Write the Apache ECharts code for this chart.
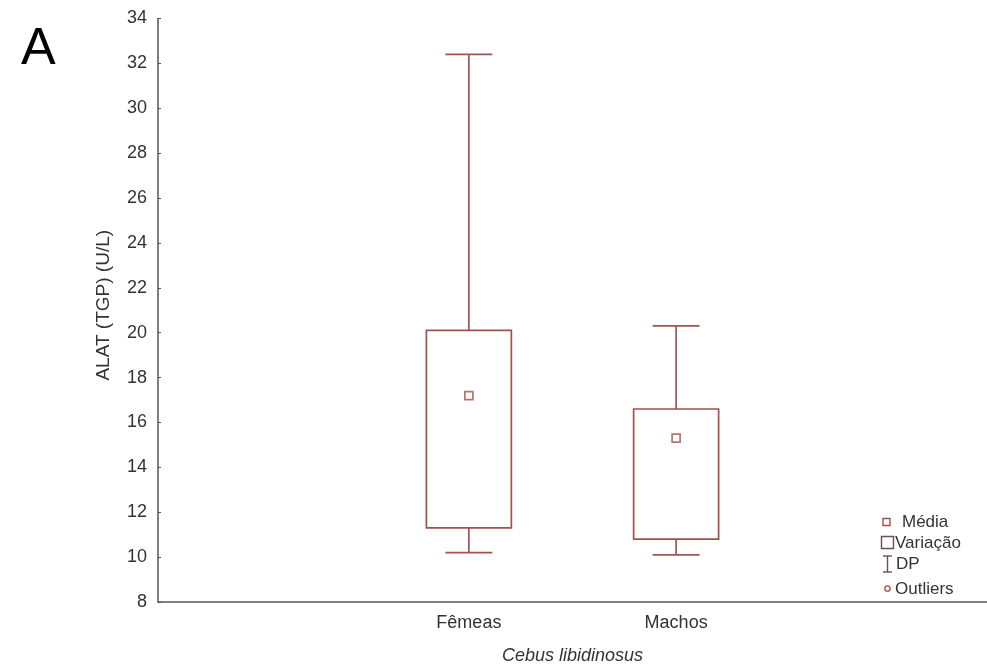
<!DOCTYPE html>
<html>
<head>
<meta charset="utf-8">
<script src="https://cdn.jsdelivr.net/npm/echarts@6/dist/echarts.min.js"></script>
<style>
  html, body { margin: 0; padding: 0; background: #fff; }
  #chart { width: 987px; height: 670px; }
</style>
</head>
<body>
<div id="chart"></div>
<script>
// eixo x: duas categorias reais, com posições vazias nas pontas
const categories = ['', 'Fêmeas', 'Machos', ''];
const groups = ['Fêmeas', 'Machos'];
// valores (U/L)
const dpMax = [32.4, 20.3];
const varMax = [20.1, 16.6];
const media = [17.2, 15.3];
const varMin = [11.3, 10.8];
const dpMin = [10.2, 10.1];

const cor = '#a0524f';
const font = '"Liberation Sans", Arial, sans-serif';

const chart = echarts.init(document.getElementById('chart'));

// caixa (Variação) + bigodes (DP)
function renderBox(params, api) {
  const x = api.value(0);
  const lo = api.coord([x, api.value(1)]);
  const q1 = api.coord([x, api.value(2)]);
  const q3 = api.coord([x, api.value(3)]);
  const hi = api.coord([x, api.value(4)]);
  const band = api.size([1, 0])[0];
  const bw = band * 0.205;
  const cw = band * 0.113;
  const st = { stroke: cor, lineWidth: 1.7, fill: null };
  return {
    type: 'group',
    children: [
      { type: 'rect', shape: { x: q3[0] - bw, y: q3[1], width: bw * 2, height: q1[1] - q3[1] }, style: st },
      { type: 'line', shape: { x1: hi[0], y1: hi[1], x2: q3[0], y2: q3[1] }, style: st },
      { type: 'line', shape: { x1: lo[0], y1: lo[1], x2: q1[0], y2: q1[1] }, style: st },
      { type: 'line', shape: { x1: hi[0] - cw, y1: hi[1], x2: hi[0] + cw, y2: hi[1] }, style: st },
      { type: 'line', shape: { x1: lo[0] - cw, y1: lo[1], x2: lo[0] + cw, y2: lo[1] }, style: st }
    ]
  };
}

const legendText = { fill: '#333', font: '17px ' + font, textVerticalAlign: 'middle' };

chart.setOption({
  animation: false,
  backgroundColor: '#fff',
  grid: { left: 158, right: -3, top: 18.5, bottom: 66 },
  xAxis: {
    type: 'category',
    data: categories,
    boundaryGap: true,
    name: 'Cebus libidinosus',
    nameLocation: 'middle',
    nameGap: 45,
    nameTextStyle: { fontStyle: 'italic', fontFamily: font, fontSize: 18, color: '#333' },
    axisLine: { lineStyle: { color: '#555', width: 1.5 } },
    axisTick: { inside: true, length: 3, alignWithLabel: true, lineStyle: { color: '#555' } },
    axisLabel: { margin: 12, fontFamily: font, fontSize: 18, color: '#333' },
    splitLine: { show: false }
  },
  yAxis: {
    type: 'value',
    min: 8,
    max: 34,
    interval: 2,
    name: 'ALAT (TGP) (U/L)',
    nameLocation: 'middle',
    nameGap: 45,
    nameTextStyle: { fontFamily: font, fontSize: 19, color: '#333', padding: [0, 0, 0, 10] },
    axisLine: { show: true, lineStyle: { color: '#555', width: 1.5 } },
    axisTick: { show: true, inside: true, length: 3, lineStyle: { color: '#555' } },
    axisLabel: { margin: 11, fontFamily: font, fontSize: 18, color: '#333' },
    splitLine: { show: false }
  },
  series: [
    {
      name: 'Variação',
      type: 'custom',
      renderItem: renderBox,
      encode: { x: 0, y: [1, 2, 3, 4] },
      data: groups.map((g, i) => [g, dpMin[i], varMin[i], varMax[i], dpMax[i]]),
      z: 2
    },
    {
      name: 'Média',
      type: 'scatter',
      symbol: 'rect',
      symbolSize: 8,
      itemStyle: { color: '#fff', borderColor: cor, borderWidth: 1.7 },
      data: groups.map((g, i) => [g, media[i]]),
      z: 3
    }
  ],
  graphic: [
    { type: 'text', left: 21, top: 24, style: { text: 'A', fill: '#000', font: '52px ' + font } },
    // legenda
    { type: 'rect', shape: { x: 883, y: 518.5, width: 7, height: 7 }, style: { stroke: cor, lineWidth: 1.4, fill: '#fff' } },
    { type: 'text', x: 902, y: 522, style: Object.assign({ text: 'Média' }, legendText) },
    { type: 'rect', shape: { x: 881.5, y: 536.5, width: 12, height: 12 }, style: { stroke: '#6a5050', lineWidth: 1.4, fill: '#fff' } },
    { type: 'text', x: 895, y: 543, style: Object.assign({ text: 'Variação' }, legendText) },
    { type: 'polyline', shape: { points: [[883, 556], [892, 556]] }, style: { stroke: '#6a5050', lineWidth: 1.4 } },
    { type: 'polyline', shape: { points: [[887.5, 556], [887.5, 572]] }, style: { stroke: '#6a5050', lineWidth: 1.4 } },
    { type: 'polyline', shape: { points: [[883, 572], [892, 572]] }, style: { stroke: '#6a5050', lineWidth: 1.4 } },
    { type: 'text', x: 896, y: 564, style: Object.assign({ text: 'DP' }, legendText) },
    { type: 'circle', shape: { cx: 887.5, cy: 588.5, r: 2.7 }, style: { stroke: cor, lineWidth: 1.3, fill: '#fff' } },
    { type: 'text', x: 895, y: 589, style: Object.assign({ text: 'Outliers' }, legendText) }
  ]
});
</script>
</body>
</html>
